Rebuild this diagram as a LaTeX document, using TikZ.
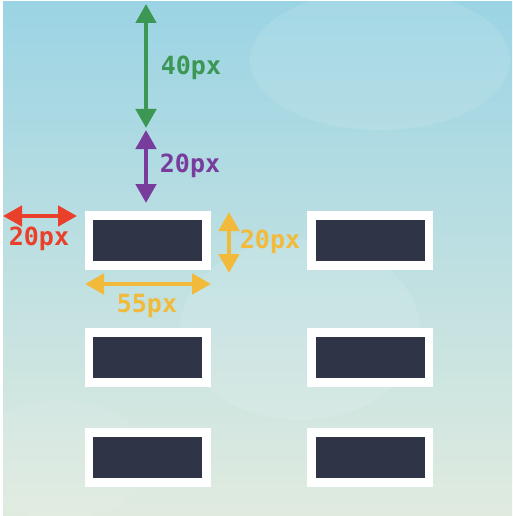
\documentclass[tikz,border=0pt]{standalone}
\usepackage{fontspec}
\setmonofont{DejaVu Sans Mono}
\usetikzlibrary{arrows.meta,positioning}
\definecolor{GapSky}{RGB}{155,212,228}
\definecolor{GapMint}{RGB}{188,223,216}
\definecolor{GapPale}{RGB}{224,235,223}
\definecolor{GapInk}{RGB}{47,52,71}
\definecolor{GapGreen}{RGB}{60,150,84}
\definecolor{GapPurple}{RGB}{120,60,156}
\definecolor{GapRed}{RGB}{232,64,42}
\definecolor{GapYellow}{RGB}{242,186,58}
\tikzset{
  gap/card/.style={
    draw=white,
    line width=8.5pt,
    fill=GapInk,
    minimum width=117.5pt,
    minimum height=50pt,
    inner sep=0pt
  },
  gap/dim/.style={
    {Triangle[length=19pt,width=20pt]}-{Triangle[length=19pt,width=20pt]},
    line width=4.5pt
  },
  gap/label/.style={font=\ttfamily\bfseries\fontsize{25}{25}\selectfont, inner sep=0pt}
}

\begin{document}
\begin{tikzpicture}[x=1pt,y=-1pt]
  \useasboundingbox (0,0) rectangle (512,516);
  \fill[white] (0,0) rectangle (512,516);
  \shade[top color=GapSky, middle color=GapMint, bottom color=GapPale] (3,2) rectangle (512,516);
  \fill[white,opacity=0.10] (380,60) ellipse (130 and 70);
  \fill[white,opacity=0.10] (300,330) ellipse (120 and 90);
  \fill[white,opacity=0.08] (60,460) ellipse (90 and 60);

  % cards
  \node[gap/card] (c11) at (147.5,240.5) {};
  \node[gap/card] (c12) at (370,240.5) {};
  \node[gap/card] (c21) at (147.5,357.5) {};
  \node[gap/card] (c22) at (370,357.5) {};
  \node[gap/card] (c31) at (147.5,457.5) {};
  \node[gap/card] (c32) at (370,457.5) {};

  % dimension ends
  \coordinate (topedge) at (146,4);
  \coordinate (midgap) at (146,128);
  \coordinate (midgap2) at (146,130);
  \coordinate (cardtop) at (146,203);
  \coordinate (leftedge) at (3,216);
  \coordinate (leftcard) at (77,216);
  \coordinate (htop) at (229,212);
  \coordinate (hbot) at (229,273);
  \coordinate (wleft) at (85,284);
  \coordinate (wright) at (211,284);

  \draw[gap/dim,GapGreen] (topedge) -- (midgap);
  \draw[gap/dim,GapPurple] (midgap2) -- (cardtop);
  \draw[gap/dim,GapRed] (leftedge) -- (leftcard);
  \draw[gap/dim,GapYellow] (htop) -- (hbot);
  \draw[gap/dim,GapYellow] (wleft) -- (wright);

  \node[gap/label,text=GapGreen] (l40) at (191,68) {40px};
  \node[gap/label,text=GapPurple] (l20v) at (190,166) {20px};
  \node[gap/label,text=GapRed] (l20h) at (39,239) {20px};
  \node[gap/label,text=GapYellow] (l20c) at (270,242) {20px};
  \node[gap/label,text=GapYellow] (l55) at (147,306) {55px};
\end{tikzpicture}
\end{document}
